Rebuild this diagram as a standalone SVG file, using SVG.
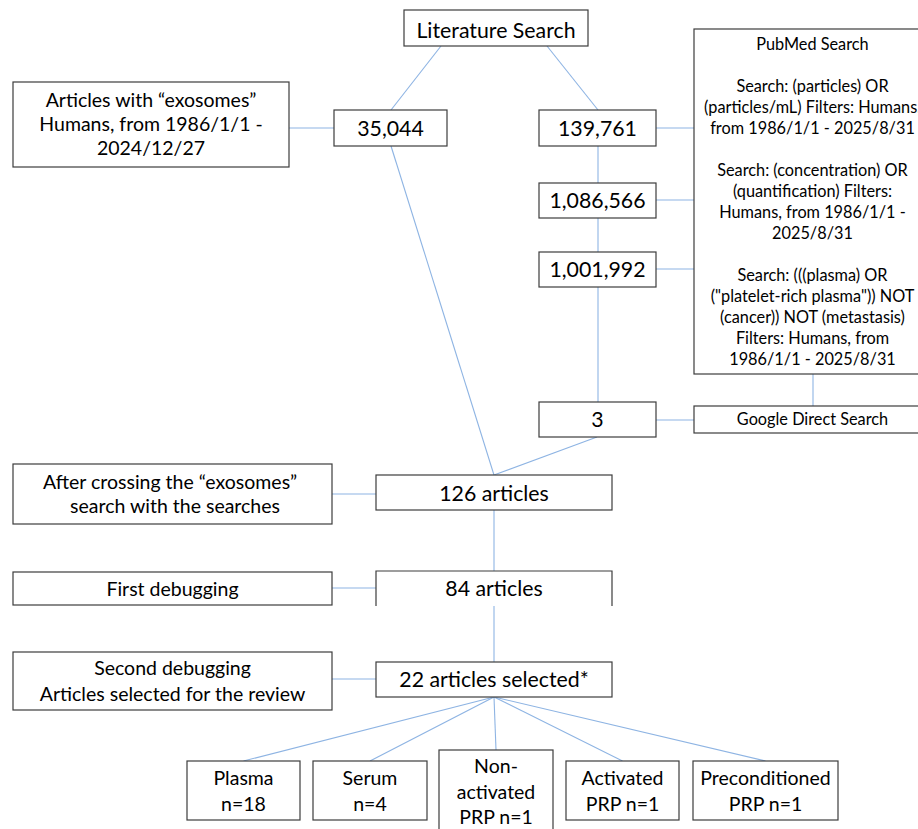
<svg xmlns="http://www.w3.org/2000/svg" width="918" height="829" viewBox="0 0 918 829">
<style>
.box{fill:#ffffff;stroke:#3c3c3c;stroke-width:1.2}
.t{font-family:Lato,"Open Sans","Liberation Sans",sans-serif;fill:#000000;text-anchor:middle}
.big{font-size:21.3px}
.mid{font-size:19.5px}
.sm{font-size:16.3px}
.c{stroke:#8eb4e3;stroke-width:1.1;fill:none}
</style>
<rect width="918" height="829" fill="#ffffff"/>
<g id="connectors">
<line class="c" x1="441" y1="46" x2="391" y2="110"/>
<line class="c" x1="547" y1="46" x2="598" y2="110"/>
<line class="c" x1="289" y1="128" x2="334" y2="128"/>
<line class="c" x1="391" y1="146" x2="494" y2="475"/>
<line class="c" x1="656" y1="128" x2="694" y2="128"/>
<line class="c" x1="598" y1="146" x2="598" y2="183"/>
<line class="c" x1="656" y1="200" x2="694" y2="200"/>
<line class="c" x1="598" y1="218" x2="598" y2="252"/>
<line class="c" x1="656" y1="269" x2="694" y2="269"/>
<line class="c" x1="598" y1="287" x2="598" y2="402"/>
<line class="c" x1="656" y1="420" x2="694" y2="420"/>
<line class="c" x1="813" y1="374" x2="813" y2="406"/>
<line class="c" x1="597" y1="437" x2="494" y2="475"/>
<line class="c" x1="332" y1="494" x2="376" y2="494"/>
<line class="c" x1="494" y1="510" x2="494" y2="571"/>
<line class="c" x1="332" y1="588" x2="376" y2="588"/>
<line class="c" x1="494" y1="606" x2="494" y2="662"/>
<line class="c" x1="332" y1="679" x2="376" y2="679"/>
<line class="c" x1="494" y1="697" x2="243.5" y2="761"/>
<line class="c" x1="494" y1="697" x2="370" y2="761"/>
<line class="c" x1="494" y1="697" x2="496" y2="750"/>
<line class="c" x1="494" y1="697" x2="622.5" y2="761"/>
<line class="c" x1="494" y1="697" x2="765.5" y2="761"/>
</g>
<g id="literature-search">
<rect class="box" x="404" y="10" width="184" height="36"/>
<text class="t big" x="496" y="38">Literature Search</text>
</g>
<g id="exosomes-articles">
<rect class="box" x="13" y="82" width="276" height="85"/>
<text class="t mid" x="151" y="107">Articles with “exosomes”</text>
<text class="t mid" x="151" y="131">Humans, from 1986/1/1 -</text>
<text class="t mid" x="151" y="155">2024/12/27</text>
</g>
<g id="n35044">
<rect class="box" x="334" y="110" width="113" height="36"/>
<text class="t big" x="390.5" y="136">35,044</text>
</g>
<g id="n139761">
<rect class="box" x="539" y="110" width="117" height="36"/>
<text class="t big" x="597.5" y="136">139,761</text>
</g>
<g id="n1086566">
<rect class="box" x="539" y="183" width="117" height="35"/>
<text class="t big" x="597.5" y="207.5">1,086,566</text>
</g>
<g id="n1001992">
<rect class="box" x="539" y="252" width="117" height="35"/>
<text class="t big" x="597.5" y="277">1,001,992</text>
</g>
<g id="n3">
<rect class="box" x="539" y="402" width="117" height="35"/>
<text class="t big" x="597.5" y="427">3</text>
</g>
<g id="pubmed-search">
<rect class="box" x="694" y="29" width="237" height="345"/>
<text class="t sm" x="812.5" y="49.5">PubMed Search</text>
<text class="t sm" x="812.5" y="91.5">Search: (particles) OR</text>
<text class="t sm" x="812.5" y="112.5">(particles/mL) Filters: Humans,</text>
<text class="t sm" x="812.5" y="133.5">from 1986/1/1 - 2025/8/31</text>
<text class="t sm" x="812.5" y="175.5">Search: (concentration) OR</text>
<text class="t sm" x="812.5" y="196.5">(quantification) Filters:</text>
<text class="t sm" x="812.5" y="217.5">Humans, from 1986/1/1 -</text>
<text class="t sm" x="812.5" y="238.5">2025/8/31</text>
<text class="t sm" x="812.5" y="280.5">Search: (((plasma) OR</text>
<text class="t sm" x="812.5" y="301.5">("platelet-rich plasma")) NOT</text>
<text class="t sm" x="812.5" y="322.5">(cancer)) NOT (metastasis)</text>
<text class="t sm" x="812.5" y="343.5">Filters: Humans, from</text>
<text class="t sm" x="812.5" y="364.5">1986/1/1 - 2025/8/31</text>
</g>
<g id="google-search">
<rect class="box" x="694" y="406" width="237" height="27"/>
<text class="t sm" x="812.5" y="425">Google Direct Search</text>
</g>
<g id="crossing">
<rect class="box" x="13" y="464" width="319" height="60"/>
<text class="t mid" x="170" y="489">After crossing the “exosomes”</text>
<text class="t mid" x="175" y="513">search with the searches</text>
</g>
<g id="n126">
<rect class="box" x="376" y="475" width="236" height="35"/>
<text class="t big" x="494" y="501">126 articles</text>
</g>
<g id="first-debugging">
<rect class="box" x="13" y="572" width="319" height="33"/>
<text class="t mid" x="172.5" y="596">First debugging</text>
</g>
<g id="n84">
<path class="box" d="M376,606 V571 H612 V606"/>
<text class="t big" x="494" y="596">84 articles</text>
</g>
<g id="second-debugging">
<rect class="box" x="13" y="652" width="319" height="58"/>
<text class="t mid" x="172.5" y="675">Second debugging</text>
<text class="t mid" x="172.5" y="701">Articles selected for the review</text>
</g>
<g id="n22">
<rect class="box" x="376" y="662" width="236" height="35"/>
<text class="t big" x="494" y="687">22 articles selected*</text>
</g>
<g id="plasma">
<rect class="box" x="187" y="761" width="113" height="59"/>
<text class="t mid" x="243.5" y="785">Plasma</text>
<text class="t mid" x="243.5" y="811">n=18</text>
</g>
<g id="serum">
<rect class="box" x="313" y="761" width="114" height="59"/>
<text class="t mid" x="370" y="785">Serum</text>
<text class="t mid" x="370" y="811">n=4</text>
</g>
<g id="non-activated">
<rect class="box" x="439" y="750" width="114" height="90"/>
<text class="t mid" x="496" y="773">Non-</text>
<text class="t mid" x="496" y="798.5">activated</text>
<text class="t mid" x="496" y="824">PRP n=1</text>
</g>
<g id="activated">
<rect class="box" x="566" y="761" width="113" height="59"/>
<text class="t mid" x="622.5" y="785">Activated</text>
<text class="t mid" x="622.5" y="811">PRP n=1</text>
</g>
<g id="preconditioned">
<rect class="box" x="693" y="761" width="145" height="59"/>
<text class="t mid" x="765.5" y="785">Preconditioned</text>
<text class="t mid" x="765.5" y="811">PRP n=1</text>
</g>
</svg>
